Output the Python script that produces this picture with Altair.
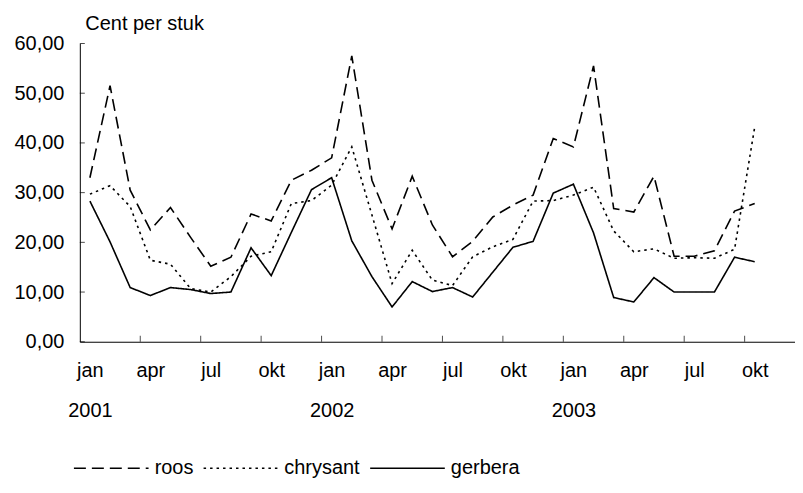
import json
import altair as alt
import pandas as pd

# ---- data ----
series_names = ["roos", "chrysant", "gerbera"]
month_index = list(range(34))  # jan 2001 .. okt 2003

roos = [33.0, 51.5, 30.5, 22.5, 27.0, 21.0, 15.2, 17.0, 25.7, 24.3, 32.5, 34.5,
        37.0, 57.5, 32.5, 22.7, 33.3, 23.5, 17.1, 20.2, 25.1, 27.5, 29.5, 40.9,
        39.2, 55.5, 26.8, 26.1, 33.3, 17.2, 17.2, 18.3, 26.3, 27.8]
chrysant = [29.7, 31.4, 27.2, 16.4, 15.6, 10.7, 10.0, 13.1, 17.2, 18.1, 27.8, 28.4,
            31.5, 39.2, 25.5, 11.7, 18.4, 12.4, 11.3, 17.1, 19.1, 20.6, 28.3, 28.4,
            29.5, 31.1, 22.3, 18.1, 18.7, 16.8, 16.9, 16.8, 18.6, 43.2]
gerbera = [28.3, 20.1, 10.9, 9.3, 10.9, 10.5, 9.7, 10.0, 18.9, 13.3, 22.0, 30.6,
           33.0, 20.3, 13.1, 7.0, 12.1, 10.1, 10.9, 9.0, 14.0, 19.0, 20.2, 29.9,
           31.7, 21.9, 8.9, 8.0, 12.9, 10.0, 10.0, 10.0, 17.0, 16.1]

quarter_labels = ["jan", "apr", "jul", "okt"]
year_labels = ["2001", "2002", "2003"]
y_ticks = [0, 10, 20, 30, 40, 50, 60]
x_label_positions = list(range(0, 34, 3))
x_tick_positions = [q * 3 - 0.5 for q in range(1, 12)]

# ---- build tables ----
rows = []
for name, vals in zip(series_names, [roos, chrysant, gerbera]):
    for i, v in zip(month_index, vals):
        rows.append({"i": i, "v": v, "series": name})
df = pd.DataFrame(rows)

labels = []
for k, pos in enumerate(x_label_positions):
    if k % 4 == 0:
        labels.append([quarter_labels[0], year_labels[k // 4]])
    else:
        labels.append(quarter_labels[k % 4])
x_label_expr = json.dumps(labels) + "[round(datum.value / 3)]"

FONT = "Liberation Sans"
W, H = 717, 299

x_scale = alt.Scale(domain=[-0.5, 35.0], nice=False, zero=False)
y_scale = alt.Scale(domain=[0, 60], nice=False)

x_axis = alt.Axis(
    values=x_label_positions, labelExpr=x_label_expr, ticks=False, grid=False,
    domainColor="black", domainWidth=1, labelFontSize=20, labelFont=FONT,
    labelColor="black", labelPadding=19, labelLineHeight=40, labelFlush=False,
    labelOverlap=False, title=None)
y_axis = alt.Axis(
    values=y_ticks, labelExpr="replace(format(datum.value, '.2f'), '.', ',')",
    ticks=False, grid=False, domainColor="black", domainWidth=1,
    labelFontSize=20, labelFont=FONT, labelColor="black", labelPadding=16,
    labelFlush=False, title="Cent per stuk", titleAngle=0, titleX=5, titleY=-14,
    titleAlign="left", titleBaseline="alphabetic", titleFontWeight="normal",
    titleFontSize=20, titleFont=FONT, titleColor="black")

lines = alt.Chart(df).mark_line(strokeWidth=1.6, color="black").encode(
    x=alt.X("i:Q", scale=x_scale, axis=x_axis),
    y=alt.Y("v:Q", scale=y_scale, axis=y_axis),
    strokeDash=alt.StrokeDash("series:N", scale=alt.Scale(
        domain=series_names, range=[[12, 6], [2.5, 4], [1, 0]]),
        legend=alt.Legend(title=None, orient="none", legendX=-7, legendY=387,
                          direction="horizontal", symbolType="stroke",
                          symbolSize=5600, symbolStrokeColor="black",
                          symbolStrokeWidth=1.6, labelFontSize=20, labelFont=FONT,
                          labelColor="black", labelOffset=5, columnPadding=6)),
)

xticks = alt.Chart(pd.DataFrame({"t": x_tick_positions})).mark_tick(
    orient="vertical", size=6, thickness=1, color="black", yOffset=-3).encode(
    x=alt.X("t:Q", scale=x_scale, axis=x_axis),
    y=alt.YDatum(0, axis=y_axis),
)

yticks = alt.Chart(pd.DataFrame({"g": y_ticks})).mark_tick(
    orient="horizontal", size=5, thickness=1, color="black", xOffset=2.5).encode(
    y=alt.Y("g:Q", scale=y_scale, axis=y_axis),
    x=alt.XDatum(-0.5, axis=x_axis),
)

chart = alt.layer(lines, xticks, yticks).properties(
    width=W, height=H,
    padding={"left": 5, "top": 5, "right": 0, "bottom": 0},
    background="white",
).configure_view(stroke=None)

chart.save("out.html", embed_options={"renderer": "svg", "actions": False})
